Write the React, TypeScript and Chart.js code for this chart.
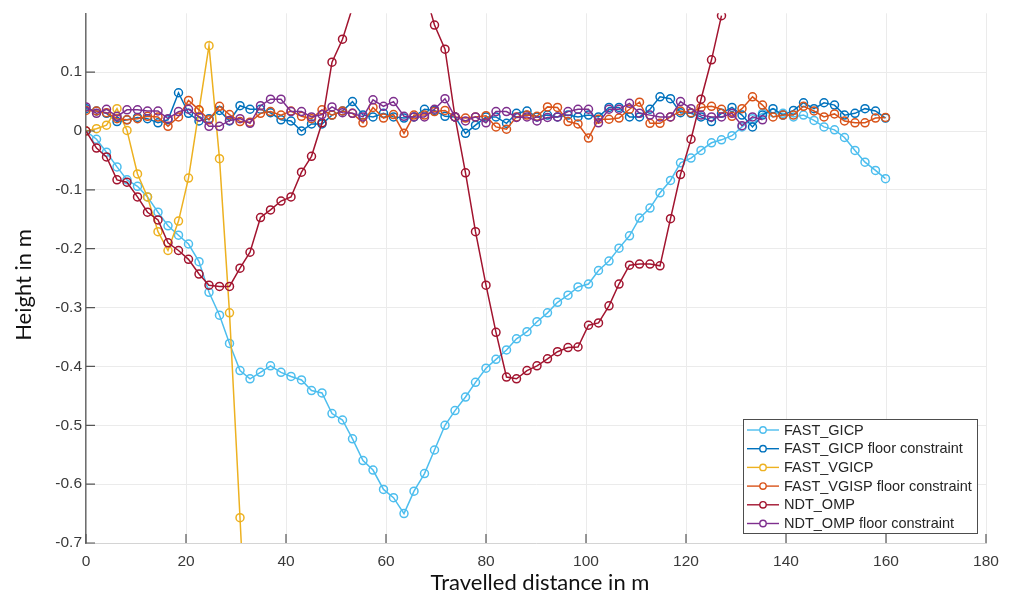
import { useEffect, useRef } from "react";
import { Chart, registerables } from "chart.js";

Chart.register(...registerables);

// Travelled distance (m) of each sample along the trajectory
const distance = [
  0, 2.1, 4.1, 6.2, 8.2, 10.3, 12.3, 14.4, 16.4, 18.5,
  20.5, 22.6, 24.6, 26.7, 28.7, 30.8, 32.8, 34.9, 36.9, 39.0,
  41.0, 43.1, 45.1, 47.2, 49.2, 51.3, 53.3, 55.4, 57.4, 59.5,
  61.5, 63.6, 65.6, 67.7, 69.7, 71.8, 73.8, 75.9, 77.9, 80.0,
  82.0, 84.1, 86.1, 88.2, 90.2, 92.3, 94.3, 96.4, 98.4, 100.5,
  102.5, 104.6, 106.6, 108.7, 110.7, 112.8, 114.8, 116.9, 118.9, 121.0,
  123.0, 125.1, 127.1, 129.2, 131.2, 133.3, 135.3, 137.4, 139.4, 141.5,
  143.5, 145.6, 147.6, 149.7, 151.7, 153.8, 155.8, 157.9, 159.9,
];

// Height (m) per sample
const fastGicp = [
  0, -0.014, -0.036, -0.061, -0.083, -0.094, -0.112, -0.138, -0.161, -0.177,
  -0.192, -0.222, -0.274, -0.313, -0.361, -0.407, -0.421, -0.41, -0.399, -0.41,
  -0.417, -0.423, -0.441, -0.445, -0.48, -0.491, -0.523, -0.56, -0.576, -0.609,
  -0.623, -0.65, -0.612, -0.582, -0.542, -0.5, -0.475, -0.452, -0.427, -0.403,
  -0.388, -0.372, -0.353, -0.341, -0.324, -0.309, -0.291, -0.279, -0.265, -0.26,
  -0.237, -0.221, -0.199, -0.178, -0.148, -0.131, -0.105, -0.084, -0.054, -0.046,
  -0.033, -0.02, -0.015, -0.008, 0.007, 0.021, 0.03, 0.031, 0.03, 0.024,
  0.027, 0.018, 0.007, 0.002, -0.011, -0.033, -0.053, -0.067, -0.081,
];

const fastGicpFloor = [
  0.038, 0.034, 0.03, 0.016, 0.019, 0.023, 0.021, 0.014, 0.019, 0.065,
  0.03, 0.017, 0.021, 0.035, 0.017, 0.043, 0.037, 0.037, 0.031, 0.019,
  0.017, 0.0, 0.012, 0.012, 0.027, 0.034, 0.05, 0.027, 0.024, 0.03,
  0.024, 0.022, 0.024, 0.037, 0.035, 0.025, 0.024, -0.004, 0.01, 0.024,
  0.024, 0.013, 0.03, 0.034, 0.024, 0.027, 0.024, 0.027, 0.024, 0.027,
  0.024, 0.04, 0.04, 0.024, 0.024, 0.037, 0.058, 0.055, 0.031, 0.03,
  0.024, 0.016, 0.03, 0.04, 0.027, 0.007, 0.027, 0.038, 0.027, 0.035,
  0.048, 0.038, 0.048, 0.044, 0.027, 0.03, 0.038, 0.034, 0.022,
];

const fastVgicp = [
  0, 0.004, 0.01, 0.038, 0.001, -0.073, -0.112, -0.171, -0.203, -0.153,
  -0.08, 0.035, 0.145, -0.047, -0.309, -0.657, -1.0,
];

const fastVgispFloor = [
  0.035, 0.034, 0.031, 0.021, 0.019, 0.021, 0.025, 0.024, 0.008, 0.024,
  0.052, 0.036, 0.019, 0.042, 0.028, 0.016, 0.015, 0.03, 0.033, 0.027,
  0.034, 0.025, 0.021, 0.036, 0.027, 0.034, 0.03, 0.014, 0.04, 0.022,
  0.028, -0.004, 0.027, 0.027, 0.033, 0.035, 0.024, 0.022, 0.024, 0.026,
  0.007, 0.003, 0.024, 0.027, 0.025, 0.041, 0.04, 0.016, 0.012, -0.012,
  0.02, 0.02, 0.022, 0.037, 0.049, 0.013, 0.013, 0.024, 0.034, 0.031,
  0.04, 0.042, 0.037, 0.025, 0.038, 0.058, 0.044, 0.024, 0.027, 0.027,
  0.042, 0.034, 0.024, 0.029, 0.017, 0.014, 0.014, 0.022, 0.023,
];

const ndtOmp = [
  0, -0.029, -0.044, -0.083, -0.087, -0.112, -0.138, -0.151, -0.19, -0.203,
  -0.218, -0.243, -0.262, -0.264, -0.264, -0.233, -0.206, -0.147, -0.134, -0.119,
  -0.112, -0.07, -0.043, 0.014, 0.117, 0.156, 0.21, 0.26, 0.3, 0.32,
  0.32, 0.3, 0.27, 0.24, 0.18, 0.139, 0.024, -0.071, -0.171, -0.262,
  -0.342, -0.418, -0.421, -0.407, -0.399, -0.387, -0.375, -0.368, -0.367, -0.33,
  -0.326, -0.297, -0.26, -0.228, -0.226, -0.226, -0.229, -0.149, -0.074, -0.014,
  0.054, 0.121, 0.196,
];

const ndtOmpFloor = [
  0.041, 0.03, 0.037, 0.025, 0.036, 0.036, 0.034, 0.034, 0.021, 0.033,
  0.037, 0.024, 0.008, 0.008, 0.018, 0.021, 0.013, 0.043, 0.054, 0.054,
  0.033, 0.033, 0.024, 0.028, 0.041, 0.031, 0.03, 0.024, 0.053, 0.042,
  0.05, 0.025, 0.024, 0.024, 0.037, 0.055, 0.024, 0.017, 0.024, 0.014,
  0.033, 0.033, 0.023, 0.024, 0.017, 0.023, 0.024, 0.033, 0.037, 0.037,
  0.014, 0.037, 0.037, 0.047, 0.03, 0.027, 0.024, 0.024, 0.05, 0.038,
  0.027, 0.024, 0.024, 0.03, 0.009, 0.024, 0.019,
];

const seriesNames = [
  "FAST_GICP",
  "FAST_GICP floor constraint",
  "FAST_VGICP",
  "FAST_VGISP floor constraint",
  "NDT_OMP",
  "NDT_OMP floor constraint",
];
const seriesValues = [fastGicp, fastGicpFloor, fastVgicp, fastVgispFloor, ndtOmp, ndtOmpFloor];
const seriesColors = ["#4DBEEE", "#0072BD", "#EDB120", "#D95319", "#A2142F", "#7E2F8E"];

const xTickValues = [0, 20, 40, 60, 80, 100, 120, 140, 160, 180];
const yTickValues = [-0.7, -0.6, -0.5, -0.4, -0.3, -0.2, -0.1, 0, 0.1];

const xTitle = "Travelled distance in m";
const yTitle = "Height in m";

const tickFont = '"Liberation Sans", Arial, sans-serif';
const titleFont = 'Lato, "Open Sans", sans-serif';

// Inward tick marks on the left and bottom axes
const innerTicks = {
  id: "innerTicks",
  afterDatasetsDraw(chart: any) {
    const { ctx, chartArea, scales } = chart;
    ctx.save();
    ctx.strokeStyle = "#555555";
    ctx.lineWidth = 1.2;
    ctx.beginPath();
    for (const v of xTickValues) {
      const px = scales.x.getPixelForValue(v);
      ctx.moveTo(px, chartArea.bottom);
      ctx.lineTo(px, chartArea.bottom - 9);
    }
    for (const v of yTickValues) {
      const py = scales.y.getPixelForValue(v);
      ctx.moveTo(chartArea.left, py);
      ctx.lineTo(chartArea.left + 9, py);
    }
    ctx.stroke();
    ctx.restore();
  },
};

// Axis titles
const axisTitles = {
  id: "axisTitles",
  afterDraw(chart: any) {
    const { ctx, chartArea } = chart;
    ctx.save();
    ctx.fillStyle = "#111111";
    ctx.font = `22px ${titleFont}`;
    ctx.textAlign = "center";
    ctx.textBaseline = "middle";
    ctx.fillText(xTitle, (chartArea.left + chartArea.right) / 2 + 4, 583);
    ctx.translate(24, 285);
    ctx.rotate(-Math.PI / 2);
    ctx.fillText(yTitle, 0, 0);
    ctx.restore();
  },
};

// Boxed legend in the lower right corner of the plot
const boxLegend = {
  id: "boxLegend",
  afterDraw(chart: any) {
    const { ctx } = chart;
    const left = 743;
    const top = 419;
    const width = 234;
    const height = 114;
    ctx.save();
    ctx.fillStyle = "#ffffff";
    ctx.fillRect(left, top, width, height);
    ctx.strokeStyle = "#4d4d4d";
    ctx.lineWidth = 1;
    ctx.strokeRect(left + 0.5, top + 0.5, width, height);
    ctx.font = `14.5px ${tickFont}`;
    ctx.textBaseline = "middle";
    ctx.textAlign = "left";
    seriesNames.forEach((name, k) => {
      const y = top + 11 + k * 18.7;
      ctx.strokeStyle = seriesColors[k];
      ctx.lineWidth = 1.4;
      ctx.beginPath();
      ctx.moveTo(left + 4, y);
      ctx.lineTo(left + 36, y);
      ctx.stroke();
      ctx.beginPath();
      ctx.arc(left + 20, y, 3.2, 0, Math.PI * 2);
      ctx.fillStyle = "#ffffff";
      ctx.fill();
      ctx.stroke();
      ctx.fillStyle = "#262626";
      ctx.fillText(name, left + 41, y + 0.5);
    });
    ctx.restore();
  },
};

export default function App() {
  const canvasRef = useRef<HTMLCanvasElement | null>(null);

  useEffect(() => {
    const canvas = canvasRef.current;
    if (!canvas) return;

    const datasets = seriesNames.map((name, k) => ({
      label: name,
      data: seriesValues[k].map((v, i) => ({ x: distance[i], y: v })),
      borderColor: seriesColors[k],
      pointBorderColor: seriesColors[k],
      pointBackgroundColor: "rgba(255,255,255,0)",
      borderWidth: 1.5,
      pointRadius: 4,
      pointBorderWidth: 1.5,
      pointStyle: "circle",
      tension: 0,
      order: seriesNames.length - 1 - k,
    }));

    const chart = new Chart(canvas, {
      type: "line",
      data: { datasets },
      plugins: [innerTicks, axisTitles, boxLegend],
      options: {
        animation: false,
        responsive: false,
        devicePixelRatio: 1,
        layout: { padding: { left: 0, right: 24, top: 9, bottom: 0 } },
        plugins: {
          legend: { display: false },
          tooltip: { enabled: false },
        },
        scales: {
          x: {
            type: "linear",
            min: 0,
            max: 180,
            afterBuildTicks: (scale: any) => {
              scale.ticks = xTickValues.map((v) => ({ value: v }));
            },
            afterFit: (scale: any) => {
              scale.height = 56;
            },
            grid: { color: "#ebebeb", lineWidth: 1, drawTicks: false },
            border: { color: "#d4d4d4", width: 1 },
            ticks: {
              padding: 9,
              maxRotation: 0,
              color: "#3a3a3a",
              font: { family: tickFont, size: 15.5 },
              callback: (v: any) => String(v),
            },
          },
          y: {
            type: "linear",
            min: -0.7,
            max: 0.2,
            afterBuildTicks: (scale: any) => {
              scale.ticks = yTickValues.map((v) => ({ value: v }));
            },
            afterFit: (scale: any) => {
              scale.width = 86;
            },
            grid: { color: "#ebebeb", lineWidth: 1, drawTicks: false },
            border: { color: "#6e6e6e", width: 1.5 },
            ticks: {
              padding: 4,
              color: "#3a3a3a",
              font: { family: tickFont, size: 15.5 },
              callback: (v: any) => {
                const r = Math.round(Number(v) * 10) / 10;
                return r === 0 ? "0" : String(r);
              },
            },
          },
        },
      },
    });

    return () => chart.destroy();
  }, []);

  return (
    <div style={{ position: "absolute", left: 0, top: 0, width: 1010, height: 599, background: "#ffffff" }}>
      <canvas ref={canvasRef} width={1010} height={599} style={{ display: "block" }} />
    </div>
  );
}
